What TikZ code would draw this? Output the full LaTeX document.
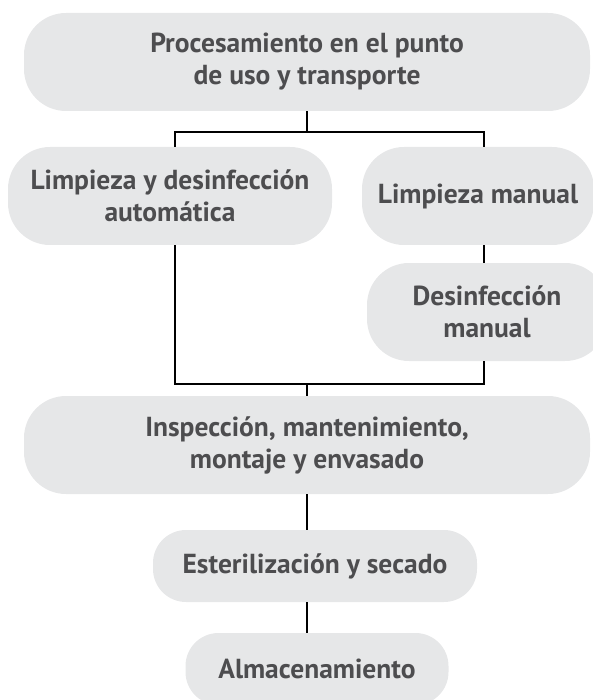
\documentclass[tikz,border=0pt]{standalone}
\usepackage{fontspec}
\setmainfont{PT Sans}
\usetikzlibrary{positioning}
\definecolor{boxGray}{HTML}{E6E7E8}
\definecolor{textGray}{HTML}{4D4D4F}

\begin{document}
\begin{tikzpicture}
[x=1pt,y=1pt,%
  lineDecorate/.style={-,line width=2.2pt,black},%
  stepBox/.style={fill=boxGray,text=textGray,inner sep=0pt,align=center,%
    font=\bfseries\fontsize{27.5}{32}\selectfont,minimum height=98pt,rounded corners=42pt},%
  smallBox/.style={stepBox,minimum height=72pt,rounded corners=33pt}]
\useasboundingbox (0,0) rectangle (592,-700);
%% boxes
\node[stepBox,minimum width=566pt] (proc) at (307,-62) {Procesamiento en el punto\\de uso y transporte};
\node[stepBox,minimum width=324pt] (auto) at (170,-196) {Limpieza y desinfección\\automática};
\node[stepBox,minimum width=232pt] (limpman) at (478,-196) {Limpieza manual};
\node[stepBox,minimum width=240pt] (desman) at (487,-312) {Desinfección\\manual};
\node[stepBox,minimum width=566pt] (insp) at (307,-445) {Inspección, mantenimiento,\\montaje y envasado};
\node[smallBox,minimum width=324pt] (ester) at (315,-566) {Esterilización y secado};
\node[smallBox,minimum width=263pt] (alm) at (317,-669) {Almacenamiento};
%% junctions
\coordinate (splitTop) at (307,-132);
\coordinate (joinBot) at (307,-384);
\coordinate (leftRail) at (175,-384);
\coordinate (rightRail) at (484,-384);
%% connectors
\draw[lineDecorate] (proc.south) -- (splitTop);
\draw[lineDecorate] (auto.north -| leftRail) |- (splitTop) -| (limpman.north -| rightRail);
\draw[lineDecorate] (limpman.south -| rightRail) -- (desman.north -| rightRail);
\draw[lineDecorate] (auto.south -| leftRail) |- (joinBot) -| (desman.south -| rightRail);
\draw[lineDecorate] (joinBot) -- (insp.north);
\draw[lineDecorate] (insp.south) -- (insp.south |- ester.north);
\draw[lineDecorate] (ester.south -| insp.south) -- (alm.north -| insp.south);
\end{tikzpicture}
\end{document}
